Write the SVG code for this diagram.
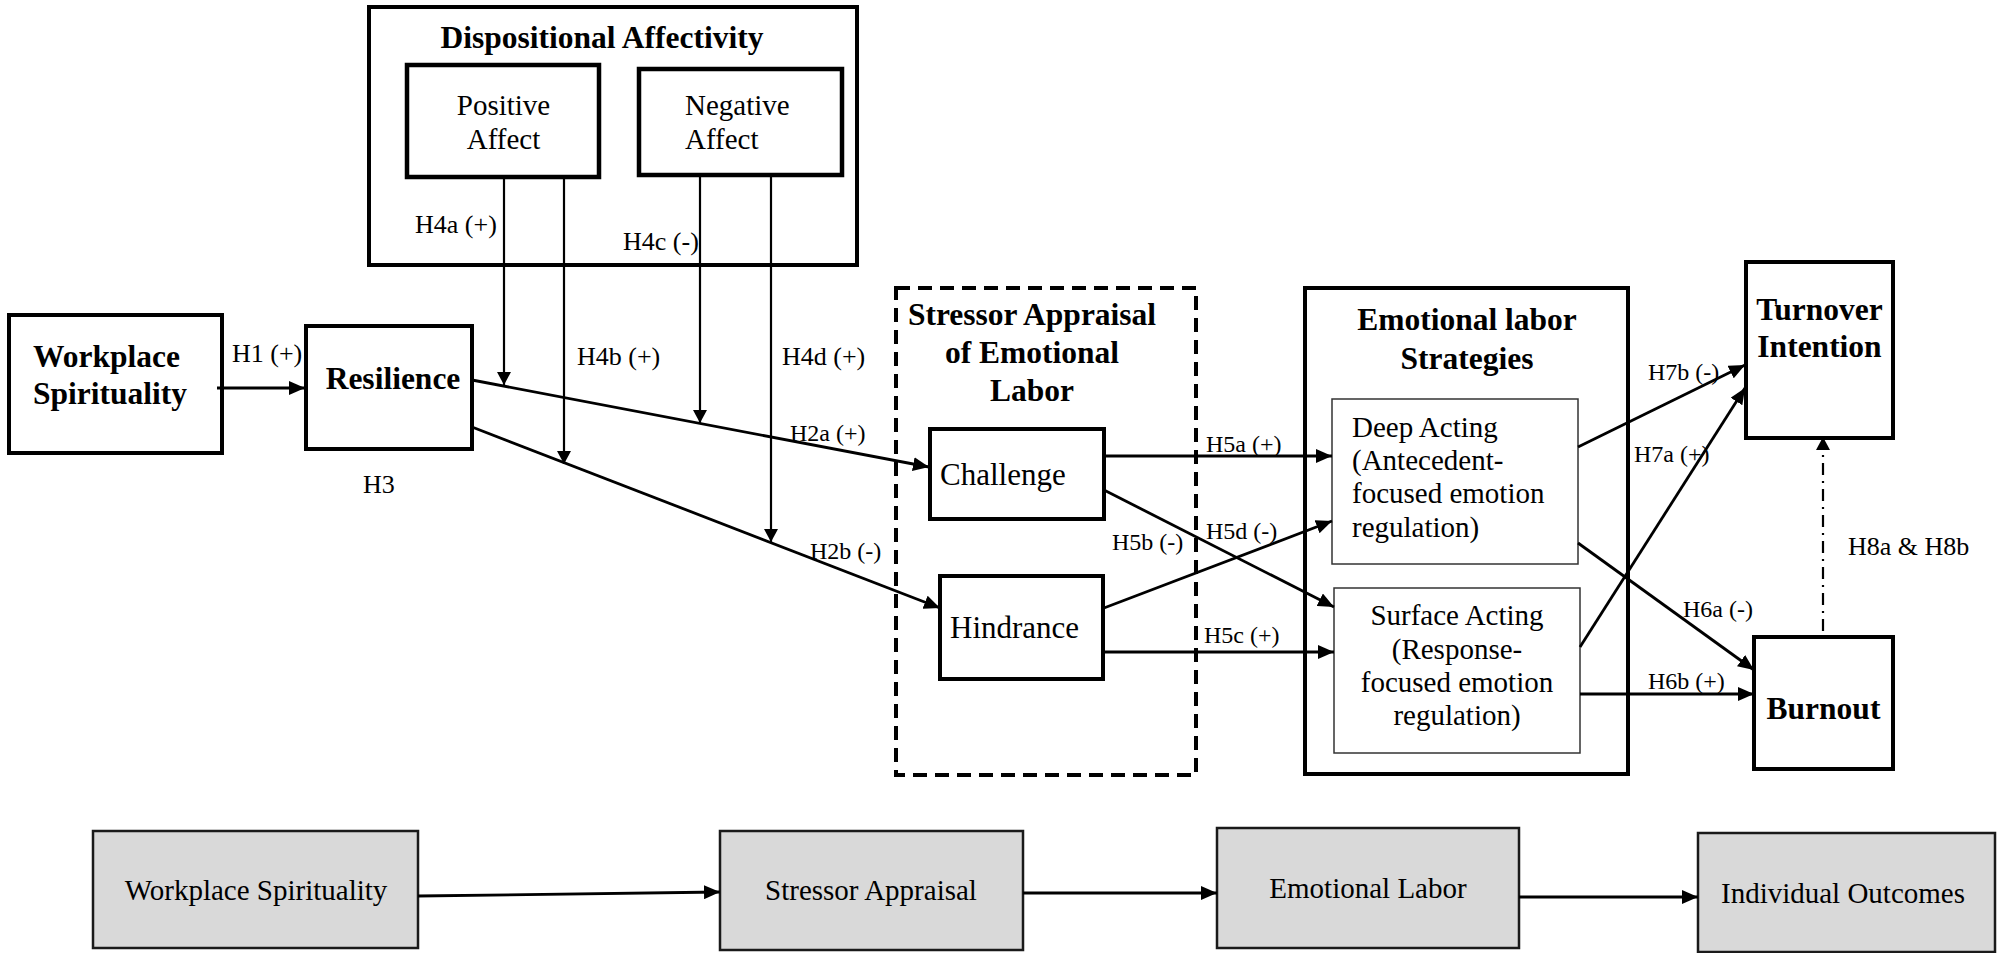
<svg xmlns="http://www.w3.org/2000/svg" width="2004" height="953" viewBox="0 0 2004 953">
  <style>
    text { font-family: "Liberation Serif", "Times New Roman", serif; fill: #000; }
    .t-bold { font-weight: bold; font-size: 31.5px; }
    .t-reg { font-size: 29px; }
    .t-big { font-size: 31px; }
    .lbl { font-size: 26px; }
    .lbl-s { font-size: 24px; }
    .mid { text-anchor: middle; }
    .box { fill: #fff; stroke: #000; stroke-width: 4; }
    .box-thick { fill: #fff; stroke: #000; stroke-width: 4.5; }
    .box-thin { fill: #fff; stroke: #333; stroke-width: 1.5; }
    .box-dash { fill: none; stroke: #000; stroke-width: 4; stroke-dasharray: 14 8; }
    .box-grey { fill: #d9d9d9; stroke: #1a1a1a; stroke-width: 2.5; }
    .edge { fill: none; stroke: #000; stroke-width: 2.8; marker-end: url(#ah); }
    .edge-v { fill: none; stroke: #000; stroke-width: 2.2; marker-end: url(#ah-s); }
    .edge-dd { fill: none; stroke: #000; stroke-width: 2.2; stroke-dasharray: 12 6 2 6; marker-end: url(#ah-s); }
  </style>
  <defs>
    <marker id="ah" viewBox="0 0 16 14" markerWidth="16" markerHeight="14" refX="16" refY="7" orient="auto" markerUnits="userSpaceOnUse">
      <path d="M0,0 L16,7 L0,14 Z" fill="#000"/>
    </marker>
    <marker id="ah-s" viewBox="0 0 13 14" markerWidth="13" markerHeight="14" refX="13" refY="7" orient="auto" markerUnits="userSpaceOnUse">
      <path d="M0,0 L13,7 L0,14 Z" fill="#000"/>
    </marker>
  </defs>

  <rect width="2004" height="953" fill="#fff"/>

  <!-- Dispositional affectivity container -->
  <g id="dispositional-affectivity">
    <rect class="box" x="369" y="7" width="488" height="258"/>
    <text class="t-bold mid" x="602" y="48">Dispositional Affectivity</text>
  </g>
  <g id="positive-affect">
    <rect class="box-thick" x="407" y="65" width="192" height="112"/>
    <text class="t-reg mid" x="503.5" y="115">Positive</text>
    <text class="t-reg mid" x="503.5" y="149">Affect</text>
  </g>
  <g id="negative-affect">
    <rect class="box-thick" x="639" y="69" width="203" height="106"/>
    <text class="t-reg" x="685" y="115">Negative</text>
    <text class="t-reg" x="685" y="149">Affect</text>
  </g>

  <g id="workplace-spirituality">
    <rect class="box" x="9" y="315" width="213" height="138"/>
    <text class="t-bold" x="33" y="367">Workplace</text>
    <text class="t-bold" x="33" y="404">Spirituality</text>
  </g>
  <g id="resilience">
    <rect class="box" x="306" y="326" width="166" height="123"/>
    <text class="t-bold mid" x="393" y="389">Resilience</text>
  </g>

  <!-- Stressor appraisal container -->
  <g id="stressor-appraisal">
    <rect class="box-dash" x="896" y="288" width="300" height="487"/>
    <text class="t-bold mid" x="1032" y="325">Stressor Appraisal</text>
    <text class="t-bold mid" x="1032" y="363">of Emotional</text>
    <text class="t-bold mid" x="1032" y="401">Labor</text>
  </g>
  <g id="challenge">
    <rect class="box" x="930" y="429" width="174" height="90"/>
    <text class="t-big" x="940" y="485">Challenge</text>
  </g>
  <g id="hindrance">
    <rect class="box" x="940" y="576" width="163" height="103"/>
    <text class="t-big" x="950" y="638">Hindrance</text>
  </g>

  <!-- Emotional labor strategies container -->
  <g id="emotional-labor-strategies">
    <rect class="box" x="1305" y="288" width="323" height="486"/>
    <text class="t-bold mid" x="1467" y="330">Emotional labor</text>
    <text class="t-bold mid" x="1467" y="369">Strategies</text>
  </g>
  <g id="deep-acting">
    <rect class="box-thin" x="1332" y="399" width="246" height="165"/>
    <text class="t-reg" x="1352" y="437">Deep Acting</text>
    <text class="t-reg" x="1352" y="470">(Antecedent-</text>
    <text class="t-reg" x="1352" y="503">focused emotion</text>
    <text class="t-reg" x="1352" y="537">regulation)</text>
  </g>
  <g id="surface-acting">
    <rect class="box-thin" x="1334" y="588" width="246" height="165"/>
    <text class="t-reg mid" x="1457" y="625">Surface Acting</text>
    <text class="t-reg mid" x="1457" y="659">(Response-</text>
    <text class="t-reg mid" x="1457" y="692">focused emotion</text>
    <text class="t-reg mid" x="1457" y="725">regulation)</text>
  </g>

  <g id="turnover-intention">
    <rect class="box" x="1746" y="262" width="147" height="176"/>
    <text class="t-bold mid" x="1819.5" y="320">Turnover</text>
    <text class="t-bold mid" x="1819.5" y="357">Intention</text>
  </g>
  <g id="burnout">
    <rect class="box" x="1754" y="637" width="139" height="132"/>
    <text class="t-bold mid" x="1823.5" y="719">Burnout</text>
  </g>

  <!-- Summary row -->
  <g id="summary-workplace-spirituality">
    <rect class="box-grey" x="93" y="831" width="325" height="117"/>
    <text class="t-reg mid" x="256" y="900">Workplace Spirituality</text>
  </g>
  <g id="summary-stressor-appraisal">
    <rect class="box-grey" x="720" y="831" width="303" height="119"/>
    <text class="t-reg mid" x="871" y="900">Stressor Appraisal</text>
  </g>
  <g id="summary-emotional-labor">
    <rect class="box-grey" x="1217" y="828" width="302" height="120"/>
    <text class="t-reg mid" x="1368" y="898">Emotional Labor</text>
  </g>
  <g id="summary-individual-outcomes">
    <rect class="box-grey" x="1698" y="833" width="297" height="119"/>
    <text class="t-reg mid" x="1843" y="903">Individual Outcomes</text>
  </g>

  <!-- Connectors -->
  <g id="connectors">
    <path class="edge" d="M217,388 L305,388"/>
    <path class="edge" d="M472,380 L929,467"/>
    <path class="edge" d="M472,427 L940,608"/>

    <path class="edge-v" d="M504,177 L504,385"/>
    <path class="edge-v" d="M564,177 L564,464"/>
    <path class="edge-v" d="M700,175 L700,423"/>
    <path class="edge-v" d="M771,175 L771,542"/>

    <path class="edge" d="M1104,456 L1332,456"/>
    <path class="edge" d="M1104,490 L1334,607"/>
    <path class="edge" d="M1104,608 L1332,521"/>
    <path class="edge" d="M1103,652 L1334,652"/>

    <path class="edge" d="M1578,447 L1745,365"/>
    <path class="edge" d="M1580,647 L1745,388"/>
    <path class="edge" d="M1578,543 L1754,670"/>
    <path class="edge" d="M1580,694 L1754,694"/>

    <path class="edge-dd" d="M1823,631 L1823,437"/>

    <path class="edge" d="M418,896 L720,892"/>
    <path class="edge" d="M1023,893 L1217,893"/>
    <path class="edge" d="M1519,897 L1698,897"/>
  </g>

  <!-- Hypothesis labels -->
  <g id="labels">
    <text class="lbl" x="232" y="362">H1 (+)</text>
    <text class="lbl" x="363" y="493">H3</text>
    <text class="lbl" x="415" y="233">H4a (+)</text>
    <text class="lbl" x="623" y="250">H4c (-)</text>
    <text class="lbl" x="577" y="365">H4b (+)</text>
    <text class="lbl" x="782" y="365">H4d (+)</text>
    <text class="lbl-s" x="790" y="441">H2a (+)</text>
    <text class="lbl-s" x="810" y="559">H2b (-)</text>
    <text class="lbl-s" x="1206" y="452">H5a (+)</text>
    <text class="lbl-s" x="1112" y="550">H5b (-)</text>
    <text class="lbl-s" x="1206" y="539">H5d (-)</text>
    <text class="lbl-s" x="1204" y="643">H5c (+)</text>
    <text class="lbl-s" x="1648" y="380">H7b (-)</text>
    <text class="lbl-s" x="1634" y="462">H7a (+)</text>
    <text class="lbl-s" x="1683" y="617">H6a (-)</text>
    <text class="lbl-s" x="1648" y="689">H6b (+)</text>
    <text class="lbl" x="1848" y="555">H8a &amp; H8b</text>
  </g>
</svg>
